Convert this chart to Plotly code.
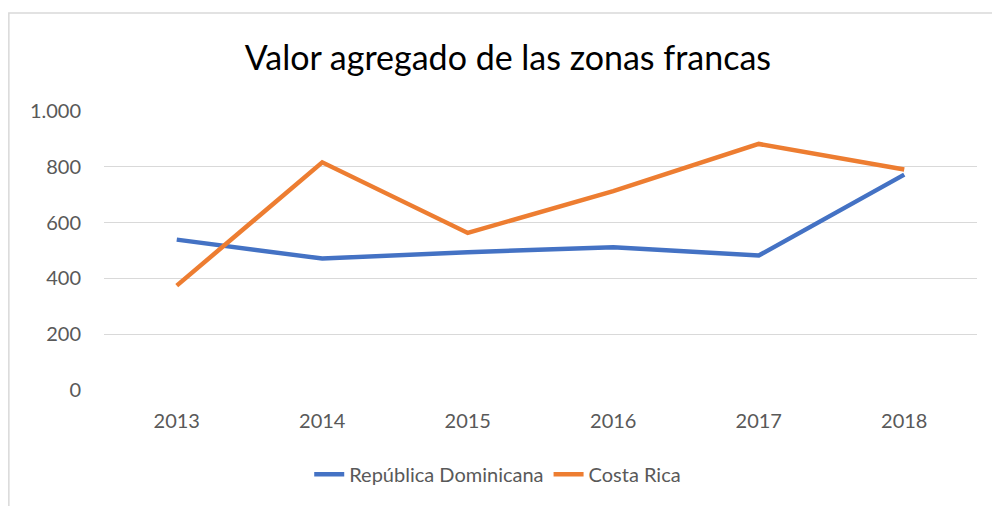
import plotly.graph_objects as go

years = ["2013", "2014", "2015", "2016", "2017", "2018"]
rep_dom = [539, 471, 494, 512, 482, 772]
costa_rica = [374, 816, 563, 713, 882, 790]
y_ticks = [0, 200, 400, 600, 800, 1000]

FONT = "Lato, Open Sans, sans-serif"

fig = go.Figure()
fig.add_trace(go.Scatter(x=years, y=rep_dom, mode="lines", name="República Dominicana",
                         line=dict(color="#4472C4", width=4.5)))
fig.add_trace(go.Scatter(x=years, y=costa_rica, mode="lines", name="Costa Rica",
                         line=dict(color="#ED7D31", width=4.5)))

fig.update_layout(
    width=992, height=506,
    margin=dict(l=104, r=15, t=111, b=113),
    paper_bgcolor="white", plot_bgcolor="white",
    separators=",.",
    font=dict(family=FONT, color="#595959", size=20),
    title=dict(text="Valor agregado de las zonas francas", x=0.512, xanchor="center",
               y=0.885, yanchor="middle",
               font=dict(size=34, color="#000000", family=FONT)),
    xaxis=dict(type="category", range=[-0.5, 5.5], showgrid=False, showline=False,
               ticks="", tickfont=dict(size=20, color="#595959"), ticklabelstandoff=17),
    yaxis=dict(range=[0, 1000], tickvals=y_ticks, tickformat=",", showgrid=True,
               gridcolor="#D9D9D9", gridwidth=1.3, zeroline=False, showline=False,
               ticks="", tickfont=dict(size=20, color="#595959"), ticklabelstandoff=22),
    legend=dict(orientation="h", x=0.451, xanchor="center", y=-0.232, yanchor="top",
                font=dict(size=20, color="#595959")),
    showlegend=True,
)
fig.add_shape(type="rect", xref="paper", yref="paper", x0=-0.109, x1=1.2, y0=-0.6, y1=1.351,
              line=dict(color="#D9D9D9", width=1.5), layer="below")

fig.write_html("out.html", config={"displayModeBar": False},
               post_script="document.body.style.margin='0';document.body.style.overflow='hidden';")
